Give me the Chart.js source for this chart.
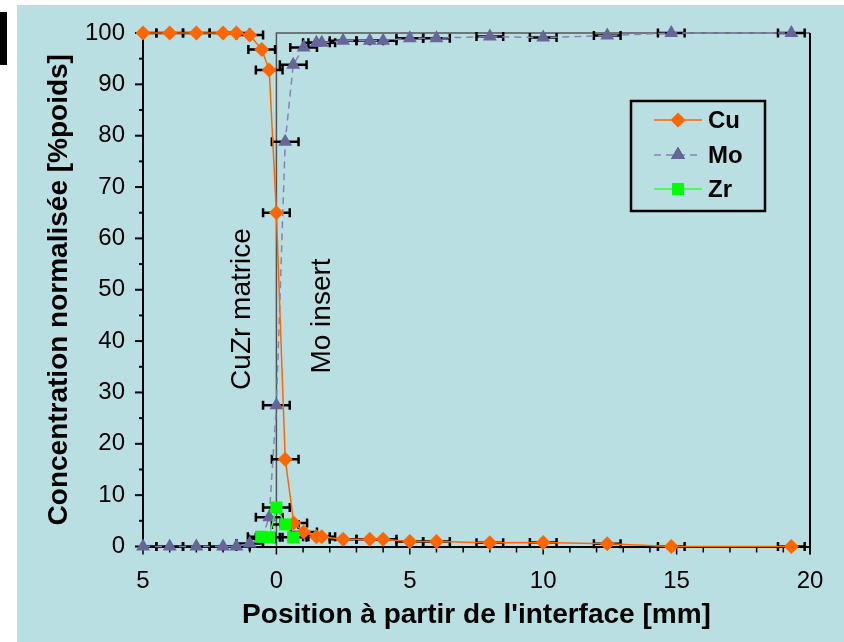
<!DOCTYPE html>
<html>
<head>
<meta charset="utf-8">
<script src="https://cdn.jsdelivr.net/npm/chart.js@4.4.0/dist/chart.umd.min.js"></script>
<style>
  html, body { margin: 0; padding: 0; background: #fff; }
  #wrap { width: 844px; height: 642px; }
</style>
</head>
<body>
<div id="wrap"><canvas id="grafico" width="844" height="642"></canvas></div>
<script>
// Position à partir de l'interface (mm) et concentrations (%poids)
const posCu = [-5, -4, -3, -2, -1.5, -1, -0.55, -0.27, 0, 0.33, 0.65, 1.02, 1.5, 1.7, 2.5, 3.5, 4, 5, 6, 8, 10, 12.4, 14.8, 19.3];
const cu    = [100, 100, 100, 100, 100, 99.6, 96.8, 92.8, 65, 17, 4.6, 2.8, 1.9, 1.9, 1.4, 1.4, 1.4, 0.95, 0.95, 0.75, 0.8, 0.55, 0, 0];

const posMo = [-5, -4, -3, -2, -1.5, -1, -0.55, -0.27, 0, 0.33, 0.63, 1.02, 1.5, 1.7, 2.5, 3.5, 4, 5, 6, 8, 10, 12.4, 14.8, 19.3];
const mo    = [0, 0, 0, 0, 0, 0.6, 1.5, 5.7, 27.5, 78.8, 93.8, 97.2, 98.1, 98.1, 98.5, 98.5, 98.5, 99, 99, 99.3, 99.1, 99.5, 100, 100];

const posZr = [-0.57, -0.27, 0, 0.33, 0.63];
const zr    = [1.9, 1.8, 7.6, 4.3, 1.8];

const errX = 0.5; // barre d'erreur horizontale (mm)

const xTicks = [-5, 0, 5, 10, 15, 20];
const xTickLabels = ['5', '0', '5', '10', '15', '20'];
const zones = ['CuZr matrice', 'Mo insert'];

const FONT = "'Liberation Sans', Arial, sans-serif";

function points(xs, ys) {
  return xs.map((x, i) => ({ x: x, y: ys[i] }));
}

// fond bleu du graphique
const fondPlugin = {
  id: 'fond',
  beforeDraw(chart) {
    const ctx = chart.ctx;
    ctx.save();
    ctx.fillStyle = '#ffffff';
    ctx.fillRect(0, 0, chart.width, chart.height);
    ctx.fillStyle = '#badfe3';
    ctx.fillRect(17, 5, chart.width - 17, chart.height - 5);
    ctx.fillStyle = '#000000';
    ctx.fillRect(0, 12, 7, 53);
    ctx.restore();
  }
};

// cadre, graduations, barres d'erreur, textes des zones
const cadrePlugin = {
  id: 'cadre',
  beforeDatasetsDraw(chart) {
    const ctx = chart.ctx;
    const xs = chart.scales.x, ys = chart.scales.y;
    const a = chart.chartArea;
    ctx.save();

    // cadre de la zone 0..20
    const x0 = xs.getPixelForValue(0), x20 = xs.getPixelForValue(20);
    const y100 = ys.getPixelForValue(100), y0 = ys.getPixelForValue(0);
    ctx.strokeStyle = '#555555';
    ctx.lineWidth = 1.5;
    ctx.beginPath();
    ctx.moveTo(x0, y0); ctx.lineTo(x0, y100); ctx.lineTo(x20, y100);
    ctx.stroke();
    ctx.strokeStyle = '#000000';
    ctx.lineWidth = 2;
    ctx.beginPath();
    ctx.moveTo(x20, y100); ctx.lineTo(x20, y0 + 8);
    ctx.stroke();

    // graduations y
    ctx.lineWidth = 2;
    for (let v = 0; v <= 100; v += 5) {
      const py = ys.getPixelForValue(v);
      const len = v % 10 === 0 ? 8 : 4;
      ctx.beginPath();
      ctx.moveTo(a.left - len, py); ctx.lineTo(a.left, py);
      ctx.stroke();
    }
    // graduations x
    ctx.lineWidth = 1.5;
    for (let v = -5; v <= 20; v += 1) {
      const px = xs.getPixelForValue(v);
      const len = v % 5 === 0 ? 8 : 6;
      ctx.beginPath();
      ctx.moveTo(px, a.bottom); ctx.lineTo(px, a.bottom + len);
      ctx.stroke();
    }

    // textes des zones
    ctx.fillStyle = '#000000';
    ctx.font = '28px ' + FONT;
    ctx.textAlign = 'center';
    ctx.textBaseline = 'middle';
    [[zones[0], 242, 309], [zones[1], 322, 316]].forEach(t => {
      ctx.save();
      ctx.translate(t[1], t[2]);
      ctx.rotate(-Math.PI / 2);
      ctx.fillText(t[0], 0, 0);
      ctx.restore();
    });

    // barres d'erreur
    ctx.strokeStyle = '#000000';
    ctx.lineWidth = 2.5;
    chart.data.datasets.forEach(ds => {
      ds.data.forEach(p => {
        const py = ys.getPixelForValue(p.y);
        let l = xs.getPixelForValue(p.x - errX);
        const r = xs.getPixelForValue(p.x + errX);
        let capL = true;
        if (l < a.left) { l = a.left; capL = false; }
        ctx.beginPath();
        ctx.moveTo(l, py); ctx.lineTo(r, py);
        if (capL) { ctx.moveTo(l, py - 4.5); ctx.lineTo(l, py + 4.5); }
        ctx.moveTo(r, py - 4.5); ctx.lineTo(r, py + 4.5);
        ctx.stroke();
      });
    });
    ctx.restore();
  },
  afterDraw(chart) {
    // légende
    const ctx = chart.ctx;
    ctx.save();
    ctx.fillStyle = '#badfe3';
    ctx.fillRect(631, 101, 134, 110);
    ctx.strokeStyle = '#000000';
    ctx.lineWidth = 2.5;
    ctx.strokeRect(631, 101, 134, 110);
    const rows = [120, 155, 189];
    chart.data.datasets.forEach((ds, i) => {
      const y = rows[i];
      ctx.strokeStyle = ds.borderColor;
      ctx.lineWidth = ds.borderWidth;
      ctx.setLineDash(ds.borderDash || []);
      ctx.beginPath();
      ctx.moveTo(654, y); ctx.lineTo(702, y);
      ctx.stroke();
      ctx.setLineDash([]);
      Chart.helpers.drawPoint(ctx, {
        pointStyle: ds.pointStyle, radius: ds.pointRadius, borderWidth: 0, rotation: 0
      }, 678, y);
      ctx.fillStyle = ds.pointBackgroundColor;
      ctx.fill();
      ctx.fillStyle = '#000000';
      ctx.font = 'bold 24px ' + FONT;
      ctx.textAlign = 'left';
      ctx.textBaseline = 'middle';
      ctx.fillText(ds.label, 708, y + 1);
    });
    ctx.restore();
  }
};

const ctx = document.getElementById('grafico');
window.miGrafico = new Chart(ctx, {
  type: 'scatter',
  data: {
    datasets: [{
      label: 'Cu',
      data: points(posCu, cu),
      showLine: true,
      borderColor: '#ff6600',
      borderWidth: 1.5,
      pointStyle: 'rectRot',
      pointRadius: 7.5,
      pointBackgroundColor: '#ff6600',
      pointBorderWidth: 0,
      clip: false,
      order: 1
    }, {
      label: 'Mo',
      data: points(posMo, mo),
      showLine: true,
      borderColor: '#8484b5',
      borderWidth: 1.5,
      borderDash: [7, 5],
      pointStyle: 'triangle',
      pointRadius: 8,
      pointBackgroundColor: '#666699',
      pointBorderWidth: 0,
      clip: false,
      order: 2
    }, {
      label: 'Zr',
      data: points(posZr, zr),
      showLine: true,
      borderColor: '#33ff33',
      borderWidth: 1.5,
      pointStyle: 'rect',
      pointRadius: 8.5,
      pointBackgroundColor: '#00ff00',
      pointBorderWidth: 0,
      clip: false,
      order: 0
    }]
  },
  options: {
    responsive: false,
    animation: false,
    layout: { padding: { left: 0, right: 34, top: 33, bottom: 0 } },
    plugins: {
      legend: { display: false },
      tooltip: { enabled: false }
    },
    scales: {
      x: {
        type: 'linear',
        min: -5,
        max: 20,
        afterBuildTicks: s => { s.ticks = xTicks.map(v => ({ value: v })); },
        afterFit: s => { s.height = 95.5; },
        ticks: {
          callback: (v, i) => xTickLabels[i],
          font: { family: FONT, size: 24 },
          color: '#000000',
          padding: 12,
          maxRotation: 0
        },
        grid: { display: false },
        border: { display: true, color: '#000000', width: 2 },
        title: {
          display: true,
          text: "Position à partir de l'interface [mm]",
          font: { family: FONT, size: 28, weight: 'bold' },
          color: '#000000',
          padding: { top: 0, bottom: 10 }
        }
      },
      y: {
        min: 0,
        max: 100,
        afterFit: s => { s.width = 143; },
        ticks: {
          stepSize: 10,
          font: { family: FONT, size: 24 },
          color: '#000000',
          padding: 10
        },
        grid: { display: false },
        border: { display: true, color: '#000000', width: 2 },
        title: {
          display: true,
          text: 'Concentration normalisée [%poids]',
          font: { family: FONT, size: 28, weight: 'bold' },
          color: '#000000',
          padding: { top: 42, bottom: 0 }
        }
      }
    }
  },
  plugins: [fondPlugin, cadrePlugin]
});
</script>
</body>
</html>
